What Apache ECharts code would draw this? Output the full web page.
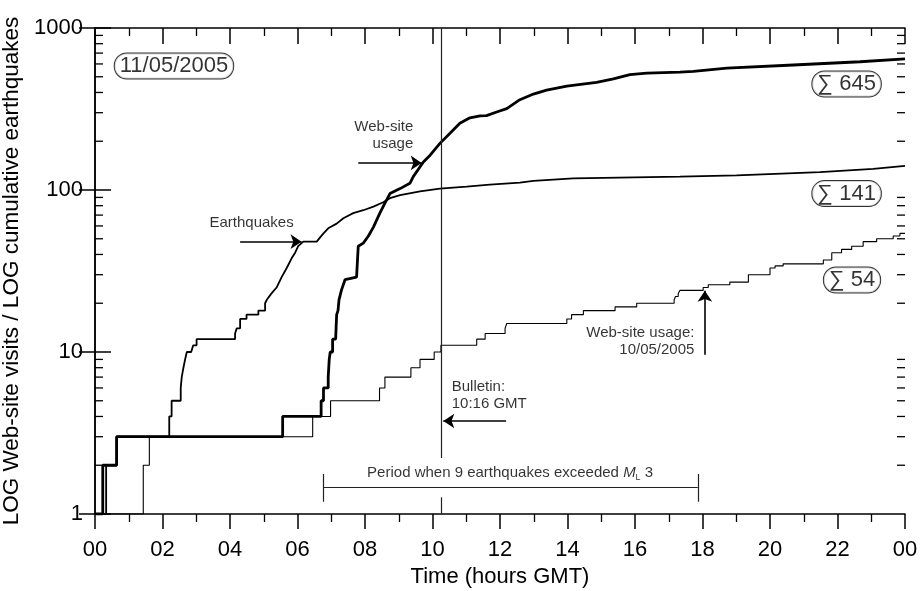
<!DOCTYPE html>
<html>
<head>
<meta charset="utf-8">
<title>Web-site usage and cumulative earthquakes</title>
<script src="https://cdn.jsdelivr.net/npm/echarts@6/dist/echarts.min.js"></script>
<style>
html,body{margin:0;padding:0;background:#fff;}
#main{width:923px;height:591px;}
</style>
</head>
<body>
<div id="main"></div>
<script>
// [hour GMT, cumulative count]
var quakes = [[0,1],[0.33,1],[0.33,2],[0.64,2],[0.64,3],[2.20,3],[2.20,4],[2.27,4],[2.27,5],[2.54,5],[2.54,6],[2.57,6],[2.57,7],[2.62,8],[2.67,9],[2.72,10],[2.85,10],[2.91,11],[3.01,11],[3.01,12],[4.15,12],[4.15,13],[4.20,14],[4.30,14],[4.30,16],[4.49,16],[4.49,17],[4.84,17],[4.84,18],[5.04,18],[5.04,20],[5.09,21],[5.23,23],[5.38,25],[5.53,29],[5.68,33],[5.83,38],[5.93,41],[6.02,45],[6.17,48],[6.57,48],[6.67,51],[6.77,54],[6.91,58],[7.16,62],[7.36,67],[7.65,72],[7.95,75],[8.25,79],[8.54,84],[8.74,89],[9.04,93],[9.63,98],[10.22,102],[11.01,105],[11.70,108],[12.59,111],[12.99,114],[14.17,118],[17.33,121],[19.01,123],[21.48,129],[23.06,135],[24,141]];
var usage11 = [[0,1],[0.23,1],[0.23,2],[0.64,2],[0.64,3],[5.56,3],[5.56,4],[6.70,4],[6.70,5],[6.77,5],[6.77,6],[6.91,6],[6.91,7],[6.94,9],[6.97,10],[7.04,10],[7.04,12],[7.13,12],[7.16,17],[7.20,18],[7.23,21],[7.30,24],[7.41,28],[7.75,29],[7.80,45],[7.95,47],[8.10,52],[8.25,59],[8.44,72],[8.59,83],[8.74,95],[9.04,102],[9.33,110],[9.43,121],[9.73,149],[9.93,164],[10.22,194],[10.52,224],[10.81,258],[11.11,279],[11.41,287],[11.60,288],[11.90,303],[12.20,318],[12.59,361],[12.99,391],[13.38,414],[13.98,438],[14.86,462],[15.36,485],[15.85,516],[16.35,527],[17.33,534],[17.73,540],[18.72,565],[20.69,591],[22.67,619],[24,645]];
var usage10 = [[0,1],[1.43,2],[1.61,3],[6.45,4],[6.98,5],[8.43,6],[8.59,7],[9.36,8],[9.63,9],[10.05,10],[10.25,11],[11.31,12],[11.56,13],[12.15,14],[12.20,15],[13.98,16],[14.12,17],[14.47,18],[15.41,19],[16.05,20],[17.16,21],[17.20,22],[17.28,23],[17.33,24],[18.02,25],[18.17,26],[18.81,27],[19.36,30],[20.00,33],[20.15,34],[20.39,35],[21.58,37],[21.83,41],[22.12,43],[22.42,45],[22.76,48],[23.16,50],[23.65,52],[23.85,54],[24,54]];
var xTickLabels = ['00','02','04','06','08','10','12','14','16','18','20','22','00'];
var yMinorTicks = [2,3,4,5,6,7,8,9,20,30,40,50,60,70,80,90,200,300,400,500,600,700,800,900];
var bulletinHour = 10 + 16 / 60;
var periodHours = [6.77, 17.86];

var font = "'Liberation Sans', Arial, sans-serif";

// annotation anchors in data space (hour, count)
var boxNotes = [
    {text: '11/05/2005', at: [2.34, 583]},
    {text: '\u2211 645', at: [22.27, 451]},
    {text: '\u2211 141', at: [22.27, 95]},
    {text: '\u2211 54', at: [22.43, 27.8]}
];
var notes = [
    {text: 'Earthquakes', at: [4.64, 62.3], align: 'center'},
    {text: 'Web-site\nusage', at: [9.43, 217.6], align: 'right'},
    {text: 'Bulletin:\n10:16 GMT', at: [10.57, 5.38], align: 'left'},
    {text: 'Web-site usage:\n10/05/2005', at: [17.76, 11.58], align: 'right'}
];
var arrows = [
    [[4.30, 48], [6.12, 48]],
    [[7.80, 147], [9.68, 147]],
    [[12.18, 3.75], [10.32, 3.75]],
    [[18.07, 9.6], [18.07, 23.9]]
];

var myChart = echarts.init(document.getElementById('main'));

var axisLineStyle = {color: '#000', width: 1.5};

var option = {
    backgroundColor: '#fff',
    animation: false,
    textStyle: {fontFamily: font, color: '#000'},
    grid: {left: 95, right: 18, top: 28, bottom: 77, containLabel: false, outerBoundsMode: 'none'},
    xAxis: [
        {
            type: 'value', min: 0, max: 24, interval: 2,
            name: 'Time (hours GMT)', nameLocation: 'middle', nameGap: 50,
            nameTextStyle: {fontSize: 22, color: '#000', fontFamily: font},
            axisLine: {lineStyle: axisLineStyle},
            axisTick: {inside: false, length: 15, lineStyle: {color: '#000', width: 1.5}},
            minorTick: {show: true, splitNumber: 2, length: 8, lineStyle: {color: '#000', width: 1.3}},
            axisLabel: {
                fontSize: 22, color: '#000', margin: 25, fontFamily: font,
                showMinLabel: true, showMaxLabel: true,
                formatter: function (v) { return xTickLabels[Math.round(v / 2)]; }
            },
            splitLine: {show: false}
        },
        {
            type: 'value', min: 0, max: 24, interval: 2, position: 'top',
            axisLine: {lineStyle: axisLineStyle},
            axisTick: {inside: true, length: 16, lineStyle: {color: '#000', width: 1.5}},
            minorTick: {show: true, splitNumber: 2, length: 8, lineStyle: {color: '#000', width: 1.3}},
            axisLabel: {show: false},
            splitLine: {show: false}
        }
    ],
    yAxis: [
        {
            type: 'log', logBase: 10, min: 1, max: 1000,
            name: 'LOG Web-site visits / LOG cumulative earthquakes',
            nameLocation: 'middle', nameGap: 64, nameRotate: 90,
            nameTextStyle: {fontSize: 22.5, color: '#000', fontFamily: font},
            axisLine: {lineStyle: axisLineStyle},
            axisTick: {inside: true, length: 16, lineStyle: {color: '#000', width: 1.5}},
            axisLabel: {
                fontSize: 22, color: '#000', margin: 12, fontFamily: font,
                formatter: function (v) { return String(Math.round(v)); }
            },
            splitLine: {show: false}
        },
        {
            type: 'log', logBase: 10, min: 1, max: 1000, position: 'right',
            axisLine: {lineStyle: axisLineStyle},
            axisTick: {inside: true, length: 16, lineStyle: {color: '#000', width: 1.5}},
            axisLabel: {show: false},
            splitLine: {show: false}
        }
    ],
    series: [
        {
            name: 'Web-site usage 10/05/2005', type: 'line', step: 'end',
            data: usage10, showSymbol: false, symbol: 'none',
            lineStyle: {color: '#000', width: 1.1}, z: 3
        },
        {
            name: 'Earthquakes', type: 'line',
            data: quakes, showSymbol: false, symbol: 'none',
            lineStyle: {color: '#000', width: 1.8}, z: 4
        },
        {
            name: 'Web-site usage 11/05/2005', type: 'line',
            data: usage11, showSymbol: false, symbol: 'none',
            lineStyle: {color: '#000', width: 2.8}, z: 5
        },
        {
            // minor log ticks on both y axes
            type: 'custom', silent: true, z: 6,
            data: yMinorTicks.map(function (v) { return [0, v]; }),
            renderItem: function (params, api) {
                var v = api.value(1);
                var l = api.coord([0, v]);
                var r = api.coord([24, v]);
                var st = {stroke: '#000', lineWidth: 1.3};
                return {type: 'group', children: [
                    {type: 'line', shape: {x1: l[0], y1: l[1], x2: l[0] + 8, y2: l[1]}, style: st},
                    {type: 'line', shape: {x1: r[0], y1: r[1], x2: r[0] - 8, y2: r[1]}, style: st}
                ]};
            }
        },
        {
            // bulletin line and the ML 3 period bar
            type: 'lines', coordinateSystem: 'cartesian2d', silent: true, z: 6,
            symbol: 'none',
            lineStyle: {color: '#222', width: 1.2, opacity: 1},
            data: [
                {coords: [[bulletinHour, 1000], [bulletinHour, 2.22]]},
                {coords: [[bulletinHour, 1.27], [bulletinHour, 1]]},
                {coords: [[periodHours[0], 1.46], [periodHours[1], 1.46]]},
                {coords: [[periodHours[0], 1.19], [periodHours[0], 1.765]]},
                {coords: [[periodHours[1], 1.19], [periodHours[1], 1.765]]}
            ]
        },
        {
            type: 'lines', coordinateSystem: 'cartesian2d', silent: true, z: 7,
            symbol: ['none', 'arrow'], symbolSize: 11,
            lineStyle: {color: '#000', width: 1.6, opacity: 1},
            data: arrows.map(function (a) { return {coords: a}; })
        },
        {
            type: 'scatter', silent: true, z: 8, symbolSize: 1,
            itemStyle: {color: 'transparent'},
            data: notes.map(function (n) {
                return {value: n.at, label: {
                    show: true, position: 'inside', formatter: n.text, align: n.align,
                    fontSize: 15, lineHeight: 17, color: '#000', fontFamily: font
                }};
            }).concat([{
                value: [12.30, 1.79],
                label: {
                    show: true, position: 'inside',
                    formatter: 'Period when 9 earthquakes exceeded {m|M}{l|L} 3',
                    fontSize: 15, color: '#000', fontFamily: font,
                    rich: {
                        m: {fontSize: 15, fontStyle: 'italic', fontFamily: font, color: '#000'},
                        l: {fontSize: 9, fontFamily: font, color: '#000', padding: [9, 0, 0, 0]}
                    }
                }
            }])
        },
        {
            type: 'scatter', silent: true, z: 9, symbolSize: 1,
            itemStyle: {color: 'transparent'},
            data: boxNotes.map(function (b) {
                return {value: b.at, label: {
                    show: true, position: 'inside', formatter: b.text,
                    fontSize: 22, color: '#000', fontFamily: font,
                    backgroundColor: '#fff', borderColor: '#000', borderWidth: 1,
                    borderRadius: 12, padding: [2, 5, 1, 5]
                }};
            })
        }
    ]
};

myChart.setOption(option);
</script>
</body>
</html>
